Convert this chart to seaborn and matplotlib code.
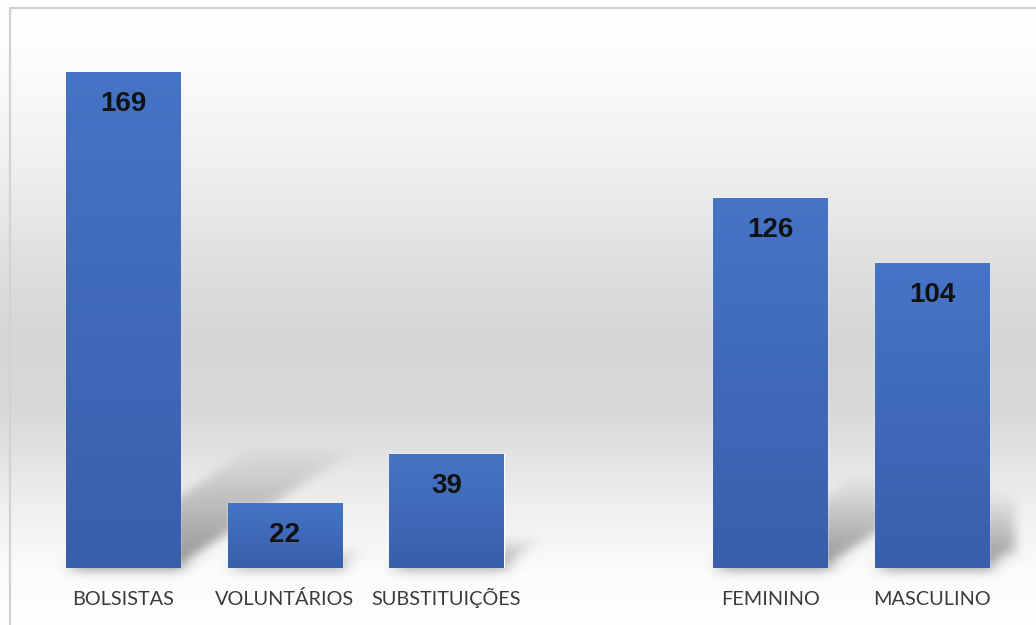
import numpy as np
import matplotlib
matplotlib.use("Agg")
import matplotlib.pyplot as plt
import seaborn as sns
import pandas as pd
from matplotlib.patches import Polygon
from matplotlib.collections import PatchCollection
from matplotlib.lines import Line2D

# ---- data ----
categories = ["BOLSISTAS", "VOLUNTÁRIOS", "SUBSTITUIÇÕES", "FEMININO", "MASCULINO"]
values = [169, 22, 39, 126, 104]
order = ["BOLSISTAS", "VOLUNTÁRIOS", "SUBSTITUIÇÕES", " ", "FEMININO", "MASCULINO"]

sns.set_theme(style="white")
W, H = 1036, 625
fig = plt.figure(figsize=(W / 100, H / 100), dpi=100)
fig.patch.set_facecolor("white")

# ---- background gradient ----
bg = fig.add_axes([0, 0, 1, 1], zorder=-10)
bg.axis("off")
stops_y = [0, 40, 130, 200, 270, 340, 410, 460, 510, 570, 625]
stops_v = [255, 254, 244, 234, 222, 214, 217, 228, 240, 251, 255]
yy = np.arange(H)
col = np.interp(yy, stops_y, stops_v) / 255.0
arr = np.repeat(col[:, None, None], 3, axis=2)
bg.imshow(arr, aspect="auto", extent=[0, 1, 0, 1], interpolation="bilinear")
bg.set_xlim(0, 1)
bg.set_ylim(0, 1)

# frame (left and top)
fig.add_artist(Line2D([10 / W, 10 / W, 1.0], [0.0, 1 - 8 / H, 1 - 8 / H],
                      transform=fig.transFigure, color="#d2d2d2", lw=1.6))

# ---- main axes ----
ax = fig.add_axes([42 / W, 57 / H, 971 / W, (568 - 39.7) / H])
ax.patch.set_alpha(0)
df = pd.DataFrame({"cat": categories, "val": values})
sns.barplot(data=df, x="cat", y="val", order=order, color="#4472C4",
            width=0.707, saturation=1, ax=ax, zorder=3)

bars = [p for p in ax.patches if np.isfinite(p.get_height()) and p.get_height() > 0]


class GaussBlur:
    def __init__(self, sigma):
        self.sigma = sigma

    def __call__(self, im, dpi):
        s = self.sigma
        pad = int(3 * s) + 1
        src = np.pad(im, [(pad, pad), (pad, pad), (0, 0)], "constant")
        k = np.exp(-0.5 * (np.arange(-pad, pad + 1) / s) ** 2)
        k /= k.sum()
        out = np.apply_along_axis(lambda m: np.convolve(m, k, mode="same"), 0, src)
        out = np.apply_along_axis(lambda m: np.convolve(m, k, mode="same"), 1, out)
        return out, -pad, -pad


# ---- perspective shadows ----
nslices = 24
for p in bars:
    xl, w, h = p.get_x(), p.get_width(), p.get_height()
    dx = h * 0.0066
    dy = h * 0.24
    polys, alphas = [], []
    for i in range(nslices):
        t0, t1 = i / nslices, (i + 1) / nslices
        polys.append(Polygon([(xl + dx * t0, dy * t0), (xl + w + dx * t0, dy * t0),
                              (xl + w + dx * t1, dy * t1), (xl + dx * t1, dy * t1)]))
        alphas.append(0.6 * (1 - t0) ** 0.9)
    pc = PatchCollection(polys, facecolors=[(0.3, 0.3, 0.3, a) for a in alphas],
                         edgecolors="none", zorder=1)
    pc.set_agg_filter(GaussBlur(6))
    pc.set_rasterized(True)
    ax.add_collection(pc)

# ---- bar gradients ----
grad = np.linspace(0, 1, 256)[:, None]
top_c = np.array([0x46, 0x74, 0xC6]) / 255
bot_c = np.array([0x39, 0x5F, 0xAB]) / 255
garr = (top_c[None, None, :] * (1 - grad[:, :, None]) + bot_c[None, None, :] * grad[:, :, None])
for p in bars:
    xl, w, h = p.get_x(), p.get_width(), p.get_height()
    im = ax.imshow(garr, extent=[xl, xl + w, 0, h], aspect="auto", zorder=4,
                   interpolation="bilinear")
    im.set_clip_path(p)
    ax.annotate(f"{int(round(h))}", (xl + w / 2, h), xytext=(0, -32),
                textcoords="offset pixels", ha="center", va="center",
                fontsize=20, fontweight="bold", family="Liberation Sans",
                color="#121212", zorder=6)

ax.set_xlim(-0.5, len(order) - 0.5)
ax.set_ylim(0, 180)
ax.set_yticks([])
ax.set_xlabel("")
ax.set_ylabel("")
for s in ax.spines.values():
    s.set_visible(False)
ax.tick_params(axis="x", length=0, pad=26.5, labelsize=14.3, labelcolor="#3a3a3a")
for lab in ax.get_xticklabels():
    lab.set_fontfamily("Lato")
    lab.set_verticalalignment("baseline")

fig.savefig("out.png", dpi=100)
